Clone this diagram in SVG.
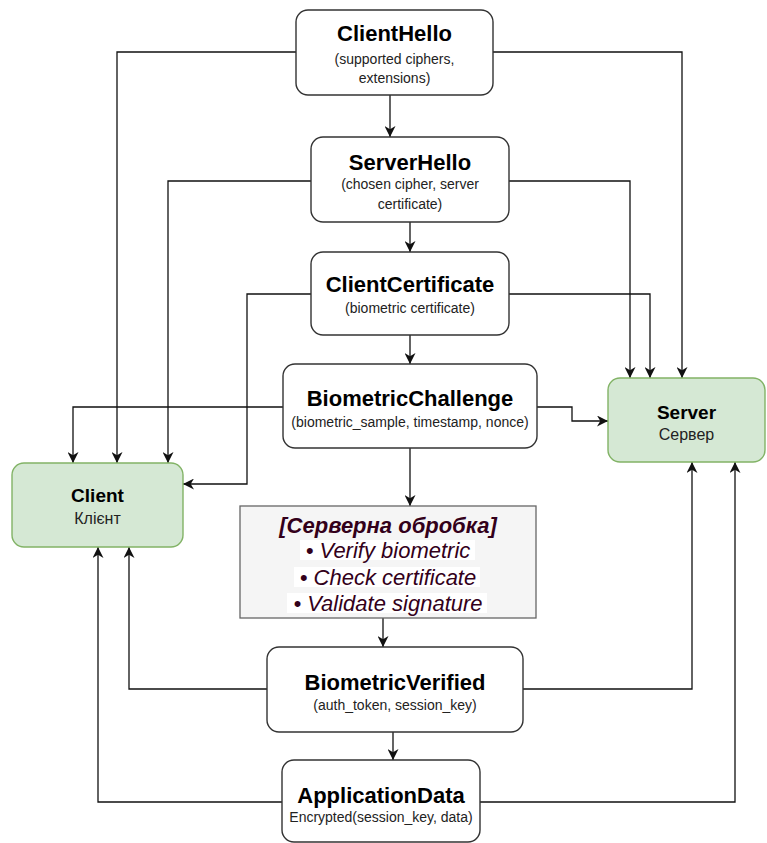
<svg xmlns="http://www.w3.org/2000/svg" width="767" height="843" viewBox="0 0 767 843">
<defs>
<marker id="arr" viewBox="0 0 10 10" refX="10" refY="5" markerWidth="11" markerHeight="11" markerUnits="userSpaceOnUse" orient="auto">
<path d="M0,0 L10,5 L0,10 L3,5 Z" fill="#111"/>
</marker>
<style>
.node{fill:#fff;stroke:#333;stroke-width:1.4}
.green{fill:#d5e8d4;stroke:#82b366;stroke-width:1.4}
.t{font-family:"Liberation Sans",Arial,sans-serif;font-weight:bold;font-size:22px;fill:#000;text-anchor:middle}
.s{font-family:"Liberation Sans",Arial,sans-serif;font-size:14px;fill:#222;text-anchor:middle}
.gt{font-family:"Liberation Sans",Arial,sans-serif;font-weight:bold;font-size:19px;fill:#000;text-anchor:middle}
.gs{font-family:"Liberation Sans",Arial,sans-serif;font-size:16px;fill:#222;text-anchor:middle}
.p{font-family:"Liberation Sans",Arial,sans-serif;font-style:italic;font-size:22px;fill:#33001a;text-anchor:middle}
.c{fill:none;stroke:#111;stroke-width:1.3;marker-end:url(#arr)}
</style>
</defs>
<g id="connectors">
<path class="c" d="M296,52 H117 V463"/>
<path class="c" d="M493,52 H682 V378"/>
<path class="c" d="M390,95 V137"/>
<path class="c" d="M311,181 H168 V463"/>
<path class="c" d="M509,181 H630 V378"/>
<path class="c" d="M410,222 V252"/>
<path class="c" d="M311,294 H247 V484 H183"/>
<path class="c" d="M509,294 H650 V378"/>
<path class="c" d="M410,335 V364"/>
<path class="c" d="M283,407 H73 V463"/>
<path class="c" d="M537,407 H572 V421 H608"/>
<path class="c" d="M410,448 V506"/>
<path class="c" d="M383,618 V647"/>
<path class="c" d="M267,689 H129 V547"/>
<path class="c" d="M523,689 H692 V462"/>
<path class="c" d="M393,732 V760"/>
<path class="c" d="M282,802 H98 V547"/>
<path class="c" d="M480,802 H735 V462"/>
</g>
<g id="ClientHello">
<rect class="node" x="296" y="10" width="197" height="85" rx="12"/>
<text class="t" x="394.5" y="41">ClientHello</text>
<text class="s" x="394.5" y="64">(supported ciphers,</text>
<text class="s" x="394.5" y="83">extensions)</text>
</g>
<g id="ServerHello">
<rect class="node" x="311" y="137" width="198" height="85" rx="12"/>
<text class="t" x="410" y="170">ServerHello</text>
<text class="s" x="410" y="189">(chosen cipher, server</text>
<text class="s" x="410" y="209">certificate)</text>
</g>
<g id="ClientCertificate">
<rect class="node" x="311" y="252" width="198" height="83" rx="12"/>
<text class="t" x="410" y="292">ClientCertificate</text>
<text class="s" x="410" y="313">(biometric certificate)</text>
</g>
<g id="BiometricChallenge">
<rect class="node" x="283" y="364" width="254" height="84" rx="12"/>
<text class="t" x="410" y="406">BiometricChallenge</text>
<text class="s" x="410" y="427">(biometric_sample, timestamp, nonce)</text>
</g>
<g id="Client">
<rect class="green" x="12" y="463" width="171" height="84" rx="12"/>
<text class="gt" x="97.5" y="502">Client</text>
<text class="gs" x="97.5" y="524">Клієнт</text>
</g>
<g id="Server">
<rect class="green" x="608" y="378" width="157" height="84" rx="12"/>
<text class="gt" x="686.5" y="419">Server</text>
<text class="gs" x="686.5" y="440">Сервер</text>
</g>
<g id="ServerProcessing">
<rect x="240" y="506" width="296" height="112" fill="#f5f5f5" stroke="#666" stroke-width="1.3"/>
<rect x="300" y="540" width="175" height="20" fill="#fff"/>
<rect x="294" y="567" width="186" height="20" fill="#fff"/>
<rect x="287" y="593" width="200" height="20" fill="#fff"/>
<text class="p" x="388" y="533" font-weight="bold">[Серверна обробка]</text>
<text class="p" x="388" y="558">• Verify biometric</text>
<text class="p" x="388" y="585">• Check certificate</text>
<text class="p" x="388" y="611">• Validate signature</text>
</g>
<g id="BiometricVerified">
<rect class="node" x="267" y="647" width="256" height="85" rx="12"/>
<text class="t" x="395" y="690">BiometricVerified</text>
<text class="s" x="395" y="710">(auth_token, session_key)</text>
</g>
<g id="ApplicationData">
<rect class="node" x="282" y="760" width="198" height="82" rx="12"/>
<text class="t" x="381" y="803">ApplicationData</text>
<text class="s" x="381" y="822">Encrypted(session_key, data)</text>
</g>
</svg>
